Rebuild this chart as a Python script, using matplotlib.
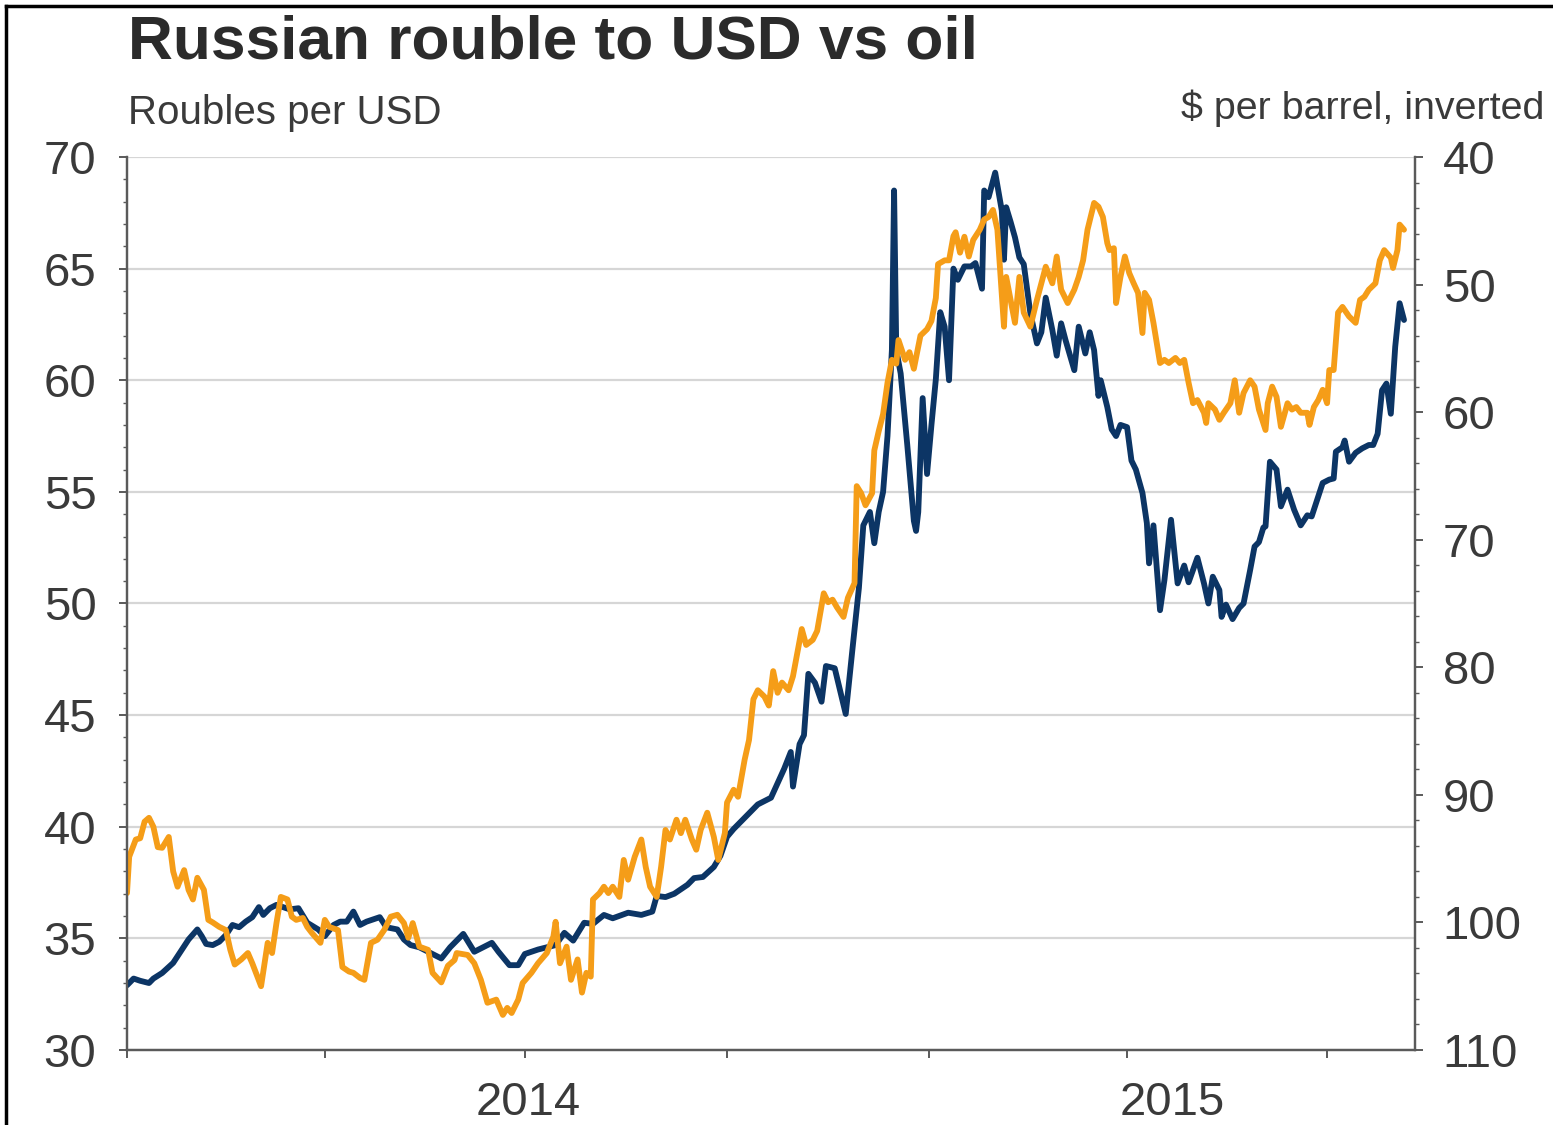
import numpy as np
import pandas as pd
import matplotlib
matplotlib.use('Agg')
import matplotlib.pyplot as plt
import matplotlib.dates as mdates
from matplotlib.ticker import MultipleLocator, NullFormatter
from matplotlib.lines import Line2D

plt.rcParams['font.family'] = ['Liberation Sans', 'DejaVu Sans']

start = pd.Timestamp('2014-01-01')
end = pd.Timestamp('2015-08-10')

# Roubles per USD (days counted from 1 Jan 2014)
rub_day = [0, 3, 6, 10, 12, 16, 21, 24, 28, 32, 34, 36, 39, 42, 45, 48, 51, 54, 57, 60,
           62, 65, 68, 71, 74, 78, 82, 87, 90, 94, 97, 100, 103, 106, 109, 112, 115, 118, 123, 126,
           129, 133, 138, 143, 147, 153, 158, 166, 169, 174, 178, 181, 187, 191, 195, 199, 203, 208, 212, 217,
           221, 228, 234, 239, 241, 245, 249, 252, 255, 258, 262, 267, 270, 273, 276, 279, 287, 293, 299, 302,
           303, 306, 308, 310, 313, 316, 318, 322, 327, 330, 333, 335, 338, 340, 342, 344, 346, 348, 349, 350,
           352, 355, 358, 359, 360, 362, 364, 366, 368, 370, 372, 374, 376, 378, 381, 384, 386, 389, 390, 392,
           395, 398, 399, 400, 402, 404, 406, 408, 411, 414, 416, 418, 421, 423, 425, 427, 431, 433, 436, 438,
           440, 442, 443, 446, 448, 450, 452, 455, 457, 459, 462, 464, 465, 467, 470, 472, 475, 478, 481, 483,
           487, 490, 492, 494, 497, 498, 500, 503, 506, 508, 511, 513, 515, 517, 518, 520, 523, 525, 528, 531,
           534, 537, 539, 542, 544, 547, 549, 550, 553, 554, 556, 559, 562, 565, 567, 569, 571, 573, 575, 577,
           579, 581]
rub = [32.9, 33.2, 33.1, 33.0, 33.2, 33.45, 33.9, 34.35, 34.95, 35.4, 35.1, 34.75, 34.7, 34.85, 35.15, 35.6, 35.5, 35.75, 35.95, 36.4,
       36.05, 36.35, 36.5, 36.4, 36.3, 36.35, 35.7, 35.4, 35.1, 35.6, 35.75, 35.75, 36.2, 35.6, 35.75, 35.85, 35.95, 35.5, 35.4, 34.95,
       34.7, 34.6, 34.35, 34.1, 34.6, 35.2, 34.4, 34.8, 34.4, 33.8, 33.8, 34.3, 34.5, 34.6, 34.7, 35.25, 34.9, 35.7, 35.65, 36.05,
       35.9, 36.15, 36.05, 36.2, 36.9, 36.85, 37.0, 37.2, 37.4, 37.7, 37.75, 38.2, 38.7, 39.55, 39.9, 40.2, 41.0, 41.3, 42.6, 43.35,
       41.8, 43.7, 44.1, 46.85, 46.45, 45.6, 47.2, 47.1, 45.05, 47.9, 50.7, 53.5, 54.1, 52.7, 54.1, 55.0, 57.5, 61.35, 68.5, 61.35,
       60.3, 57.1, 53.7, 53.25, 54.1, 59.2, 55.8, 58.0, 60.05, 63.05, 62.4, 60.0, 65.0, 64.5, 65.1, 65.1, 65.25, 64.1, 68.5, 68.2,
       69.3, 67.6, 65.4, 67.75, 67.1, 66.4, 65.5, 65.2, 63.0, 61.65, 62.15, 63.7, 62.25, 61.1, 62.55, 61.8, 60.45, 62.4, 61.2, 62.15,
       61.35, 59.3, 60.0, 58.8, 57.8, 57.5, 58.0, 57.9, 56.4, 56.0, 54.95, 53.6, 51.8, 53.5, 49.7, 51.05, 53.75, 50.9, 51.7, 50.95,
       52.05, 50.9, 50.0, 51.2, 50.6, 49.4, 49.95, 49.3, 49.8, 50.0, 51.5, 52.55, 52.75, 53.4, 53.45, 56.35, 56.0, 54.35, 55.1, 54.2,
       53.5, 53.95, 53.9, 54.8, 55.4, 55.55, 55.6, 56.8, 57.0, 57.3, 56.35, 56.75, 56.95, 57.1, 57.1, 57.6, 59.55, 59.85, 58.5, 61.5,
       63.45, 62.7]

# Oil, $ per barrel (days counted from 1 Jan 2014)
oil_day = [0, 1, 4, 6, 8, 10, 12, 14, 16, 19, 21, 23, 26, 28, 30, 32, 35, 37, 39, 42,
           45, 47, 49, 52, 55, 57, 61, 64, 66, 68, 70, 73, 75, 77, 80, 82, 84, 88, 90, 92,
           96, 98, 101, 103, 106, 108, 111, 114, 117, 120, 123, 126, 128, 130, 133, 137, 139, 143, 146, 149,
           150, 155, 158, 161, 164, 168, 171, 173, 175, 178, 180, 184, 187, 191, 194, 195, 197, 200, 202, 205,
           207, 209, 211, 212, 215, 217, 219, 221, 224, 226, 228, 231, 234, 236, 238, 241, 243, 245, 247, 250,
           252, 254, 257, 259, 261, 264, 267, 269, 272, 273, 276, 278, 281, 283, 285, 287, 290, 292, 294, 296,
           298, 301, 303, 307, 309, 312, 314, 317, 319, 321, 323, 326, 328, 331, 332, 334, 336, 339, 340, 342,
           344, 346, 348, 350, 351, 354, 356, 358, 361, 364, 366, 368, 369, 372, 374, 376, 377, 379, 381, 383,
           385, 388, 390, 392, 394, 396, 399, 400, 402, 404, 406, 408, 411, 414, 416, 418, 421, 423, 425, 428,
           431, 433, 435, 437, 440, 442, 444, 446, 447, 449, 450, 452, 454, 456, 458, 460, 462, 463, 465, 467,
           470, 472, 474, 477, 479, 481, 483, 485, 487, 490, 491, 492, 495, 497, 499, 502, 504, 506, 508, 511,
           513, 515, 518, 519, 521, 523, 525, 528, 530, 532, 534, 537, 538, 540, 542, 544, 546, 547, 549, 551,
           553, 556, 559, 561, 563, 565, 568, 570, 572, 575, 576, 578, 579, 581]
oil = [97.7, 94.85, 93.5, 93.4, 92.1, 91.8, 92.5, 94.1, 94.15, 93.3, 96.0, 97.2, 95.9, 97.45, 98.2, 96.5, 97.45, 99.8, 100.0, 100.35,
       100.6, 102.15, 103.3, 102.9, 102.4, 103.2, 105.0, 101.6, 102.4, 100.05, 98.0, 98.2, 99.55, 99.8, 99.65, 100.35, 100.8, 101.6, 99.8, 100.35,
       100.6, 103.5, 103.85, 103.95, 104.35, 104.5, 101.6, 101.35, 100.6, 99.55, 99.4, 100.05, 101.2, 100.05, 101.9, 102.15, 103.95, 104.7, 103.4, 102.95,
       102.4, 102.55, 103.2, 104.5, 106.3, 106.05, 107.25, 106.7, 107.1, 106.05, 104.75, 103.95, 103.2, 102.4, 101.1, 99.95, 103.2, 101.9, 104.5, 102.9,
       105.5, 103.95, 104.25, 98.2, 97.7, 97.2, 97.7, 97.2, 98.0, 95.1, 96.65, 94.85, 93.5, 95.65, 97.2, 98.0, 95.65, 92.75, 93.5, 91.95,
       93.0, 91.95, 93.5, 94.3, 92.75, 91.4, 93.3, 95.1, 93.0, 90.6, 89.6, 90.15, 87.25, 85.7, 82.5, 81.8, 82.3, 83.0, 80.3, 82.0,
       81.2, 81.8, 80.7, 77.0, 78.25, 77.85, 77.15, 74.2, 74.9, 74.7, 75.3, 76.05, 74.55, 73.4, 65.8, 66.35, 67.3, 66.35, 63.0, 61.5,
       60.15, 57.7, 55.9, 56.2, 54.35, 55.9, 55.3, 56.6, 54.0, 53.5, 52.85, 51.05, 48.4, 48.1, 48.1, 46.2, 45.9, 47.5, 46.25, 47.8,
       46.5, 45.7, 44.9, 44.7, 44.15, 45.7, 53.3, 49.4, 51.2, 53.0, 49.4, 52.2, 53.3, 51.2, 49.9, 48.6, 49.9, 47.8, 50.4, 51.45,
       50.4, 49.4, 48.1, 45.7, 43.6, 43.9, 44.7, 46.75, 47.3, 47.15, 51.45, 49.4, 47.8, 49.1, 49.9, 50.65, 53.8, 50.65, 51.2, 53.0,
       56.15, 55.9, 56.15, 55.75, 56.15, 55.9, 57.7, 59.3, 59.05, 60.05, 60.85, 59.3, 59.8, 60.6, 60.05, 59.3, 57.5, 60.05, 58.5, 57.5,
       58.0, 59.8, 61.4, 59.3, 58.0, 58.8, 61.15, 59.3, 59.8, 59.6, 60.05, 60.05, 61.0, 59.6, 59.05, 58.25, 59.3, 56.7, 56.7, 52.2,
       51.75, 52.5, 53.0, 51.2, 50.95, 50.4, 49.9, 48.1, 47.3, 47.9, 48.7, 47.3, 45.3, 45.7]

years = ['2014', '2015']

rub_dates = start + pd.to_timedelta(rub_day, unit='D')
oil_dates = start + pd.to_timedelta(oil_day, unit='D')

navy = '#0c3565'
amber = '#f59d18'
grey_txt = '#3a3a3a'
spine_col = '#5a5a5a'

fig = plt.figure(figsize=(15.53, 11.25), dpi=100)
ax = fig.add_axes([127 / 1553, 1 - 1050 / 1125, (1415 - 127) / 1553, (1050 - 157) / 1125])
ax2 = ax.twinx()

ax.plot(rub_dates, rub, color=navy, lw=4.2, solid_joinstyle='round', solid_capstyle='round', zorder=3)
ax2.plot(oil_dates, oil, color=amber, lw=4.2, solid_joinstyle='round', solid_capstyle='round', zorder=2)

# left axis: roubles
ax.set_ylim(30, 70)
ax.yaxis.set_major_locator(MultipleLocator(5))
ax.yaxis.set_minor_locator(MultipleLocator(1))
ax.grid(axis='y', color='#d6d6d6', lw=1.6)
ax.set_axisbelow(True)

# right axis: oil, inverted
ax2.set_ylim(110, 40)
ax2.yaxis.set_major_locator(MultipleLocator(10))
ax2.yaxis.set_minor_locator(MultipleLocator(2))

ax.set_xlim(start, end)
ax.xaxis.set_major_locator(mdates.MonthLocator(bymonth=[1, 4, 7, 10]))
ax.xaxis.set_major_formatter(NullFormatter())
# year labels sit in the middle of each year's visible span
yr_pos = []
for y in years:
    a = max(pd.Timestamp(f'{y}-01-01'), start)
    b = min(pd.Timestamp(f'{int(y) + 1}-01-01'), end)
    yr_pos.append(a + (b - a) / 2)
ax.set_xticks(yr_pos, minor=True)
ax.set_xticklabels(years, minor=True)

for a in (ax, ax2):
    for s in a.spines.values():
        s.set_color(spine_col)
        s.set_linewidth(1.6)
    a.spines['top'].set_visible(False)

ax.tick_params(axis='y', which='major', length=6, width=1.4, color=spine_col,
               labelsize=34, labelcolor=grey_txt, pad=16)
ax.tick_params(axis='y', which='minor', length=3, width=1.0, color=spine_col)
ax2.tick_params(axis='y', which='major', length=6, width=1.4, color=spine_col,
                labelsize=34, labelcolor=grey_txt, pad=14)
ax2.tick_params(axis='y', which='minor', length=3, width=1.0, color=spine_col)
ax.tick_params(axis='x', which='major', length=6, width=1.4, color=spine_col)
ax.tick_params(axis='x', which='minor', length=0, labelsize=34, labelcolor=grey_txt, pad=22)

fig.text(128 / 1553, 1 - 43 / 1125, 'Russian rouble to USD vs oil', fontsize=44.8,
         fontweight='bold', color='#2b2b2b', va='center', ha='left')
fig.text(128 / 1553, 1 - 113 / 1125, 'Roubles per USD', fontsize=29,
         color=grey_txt, va='center', ha='left')
fig.text(1181 / 1553, 1 - 108 / 1125, '$ per barrel, inverted', fontsize=28.4,
         color=grey_txt, va='center', ha='left')

# thin black frame along the left and top of the image
fig.add_artist(Line2D([6 / 1553, 6 / 1553], [0, 1 - 6 / 1125], transform=fig.transFigure,
                      color='black', lw=2.5))
fig.add_artist(Line2D([6 / 1553, 1], [1 - 6 / 1125, 1 - 6 / 1125], transform=fig.transFigure,
                      color='black', lw=2.5))

fig.savefig('out.png', dpi=100)
